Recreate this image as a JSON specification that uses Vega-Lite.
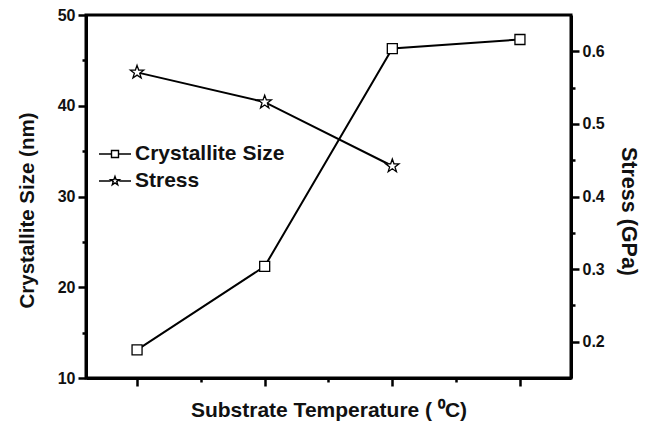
{
  "$schema": "https://vega.github.io/schema/vega-lite/v6.json",
  "width": 485,
  "height": 363,
  "autosize": {"type": "none"},
  "padding": {"left": 86, "top": 15, "right": 74, "bottom": 43},
  "background": "white",
  "config": {
    "font": "Liberation Sans",
    "view": {"stroke": "black", "strokeWidth": 3},
    "axis": {
      "grid": false,
      "domainColor": "black",
      "domainWidth": 3,
      "tickColor": "black",
      "tickWidth": 2.5,
      "labelFont": "Liberation Sans",
      "labelFontWeight": "bold",
      "labelFontSize": 16,
      "labelColor": "#111",
      "titleFont": "Liberation Sans",
      "titleFontWeight": "bold",
      "titleFontSize": 20,
      "titleColor": "#111"
    }
  },
  "data": {
    "values": [
      {"t": 1, "series": "Crystallite Size", "value": 13.1},
      {"t": 2, "series": "Crystallite Size", "value": 22.3},
      {"t": 3, "series": "Crystallite Size", "value": 46.3},
      {"t": 4, "series": "Crystallite Size", "value": 47.3},
      {"t": 1, "series": "Stress", "value": 0.571},
      {"t": 2, "series": "Stress", "value": 0.53},
      {"t": 3, "series": "Stress", "value": 0.442}
    ]
  },
  "encoding": {
    "x": {
      "field": "t",
      "type": "quantitative",
      "scale": {"domain": [0.6, 4.4], "nice": false, "zero": false},
      "axis": {
        "orient": "bottom",
        "values": [1, 1.5, 2, 2.5, 3, 3.5, 4],
        "labels": false,
        "tickSize": {"condition": {"test": "datum.value % 1 === 0", "value": 8}, "value": 4},
        "title": "Substrate Temperature ( ⁰C)",
        "titleFontSize": 21,
        "titlePadding": 12
      }
    }
  },
  "layer": [
    {
      "transform": [{"filter": "datum.series === 'Crystallite Size'"}],
      "encoding": {
        "y": {
          "field": "value",
          "type": "quantitative",
          "scale": {"domain": [10, 50], "nice": false, "zero": false},
          "axis": {
            "orient": "left",
            "values": [10, 15, 20, 25, 30, 35, 40, 45, 50],
            "labelExpr": "datum.value % 10 === 0 ? datum.label : ''",
            "tickSize": {"condition": {"test": "datum.value % 10 === 0", "value": 8}, "value": 4},
            "labelPadding": 3,
            "title": "Crystallite Size (nm)",
            "titleFontSize": 20.5,
            "titleX": -59,
            "titleY": 195,
            "titleAngle": -90,
            "titleAlign": "center",
            "titleBaseline": "middle"
          }
        }
      },
      "layer": [
        {"mark": {"type": "line", "color": "black", "strokeWidth": 2}, "encoding": {}},
        {
          "mark": {"type": "point", "shape": "square", "filled": true, "fill": "white", "stroke": "black", "strokeWidth": 1.3, "size": 100, "opacity": 1},
          "encoding": {}
        }
      ]
    },
    {
      "transform": [{"filter": "datum.series === 'Stress'"}],
      "encoding": {
        "y": {
          "field": "value",
          "type": "quantitative",
          "scale": {"domain": [0.15, 0.65], "nice": false, "zero": false},
          "axis": {
            "orient": "right",
            "values": [0.2, 0.25, 0.3, 0.35, 0.4, 0.45, 0.5, 0.55, 0.6],
            "labelExpr": "abs(datum.value * 10 - round(datum.value * 10)) < 0.001 ? format(datum.value, '.1f') : ''",
            "tickSize": {"condition": {"test": "abs(datum.value * 10 - round(datum.value * 10)) < 0.001", "value": 8}, "value": 4},
            "labelPadding": 3,
            "title": "Stress (GPa)",
            "titleFontSize": 21.5,
            "titleX": 56,
            "titleY": 196,
            "titleAngle": 90,
            "titleAlign": "center",
            "titleBaseline": "middle"
          }
        }
      },
      "layer": [
        {"mark": {"type": "line", "color": "black", "strokeWidth": 2}, "encoding": {}},
        {
          "mark": {"type": "point", "shape": "M0,-1L0.235,-0.324L0.951,-0.309L0.38,0.124L0.588,0.809L0,0.4L-0.588,0.809L-0.38,0.124L-0.951,-0.309L-0.235,-0.324Z", "filled": true, "fill": "white", "stroke": "black", "strokeWidth": 1.3, "size": 196, "opacity": 1},
          "encoding": {}
        }
      ]
    },
    {
      "mark": {"type": "point", "filled": false, "color": "black", "strokeWidth": 1.5, "opacity": 0},
      "encoding": {
        "shape": {
          "field": "series",
          "type": "nominal",
          "scale": {
            "domain": ["Crystallite Size", "Stress"],
            "range": [
              "M-1.6,0H-0.35M0.35,0H1.6M-0.35,-0.35H0.35V0.35H-0.35Z",
              "M-1.6,0H-0.43M0.43,0H1.6M0,-0.46L0.108,-0.15L0.437,-0.142L0.175,0.057L0.27,0.372L0,0.184L-0.27,0.372L-0.175,0.057L-0.437,-0.142L-0.108,-0.15Z"
            ]
          },
          "legend": {
            "orient": "none",
            "legendX": 18,
            "legendY": 128,
            "title": null,
            "labelFont": "Liberation Sans",
            "labelFontWeight": "bold",
            "labelFontSize": 21,
            "labelColor": "#111",
            "labelOffset": 9,
            "symbolSize": 400,
            "symbolOpacity": 1,
            "symbolStrokeColor": "black",
            "symbolStrokeWidth": 1.4,
            "rowPadding": 6
          }
        }
      }
    }
  ],
  "resolve": {"scale": {"y": "independent"}}
}
